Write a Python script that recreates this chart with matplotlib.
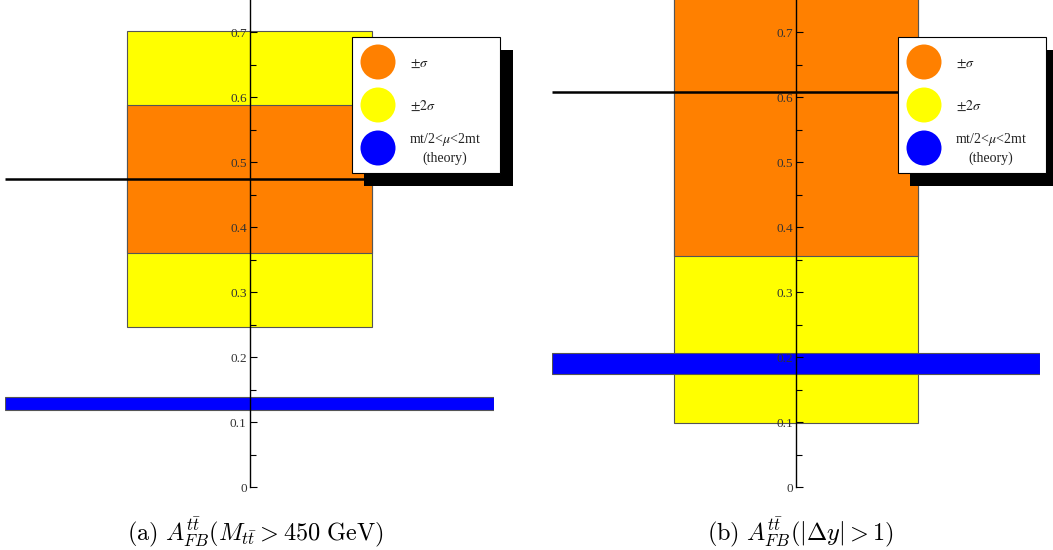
import matplotlib
matplotlib.use("Agg")
import matplotlib.pyplot as plt
from matplotlib.patches import Rectangle, Ellipse

W, H = 1053, 550

# ---- data ----
left_central = 0.474
left_sigma1 = (0.361, 0.589)
left_sigma2 = (0.247, 0.703)
left_theory = (0.118, 0.138)

right_central = 0.609
right_sigma1 = (0.355, 0.867)
right_sigma2 = (0.099, 1.12)
right_theory = (0.174, 0.206)

yticks_major = [0, 0.1, 0.2, 0.3, 0.4, 0.5, 0.6, 0.7]
ytick_labels = ["0", "0.1", "0.2", "0.3", "0.4", "0.5", "0.6", "0.7"]
yticks_minor = [0.05, 0.15, 0.25, 0.35, 0.45, 0.55, 0.65]

legend_labels = [r"$\pm\sigma$", r"$\pm2\sigma$", r"mt/2<$\mu$<2mt" + "\n(theory)"]
captions = [r"$\mathrm{(a)}\ A^{t\bar{t}}_{FB}(M_{t\bar{t}} > 450\ \mathrm{GeV})$",
            r"$\mathrm{(b)}\ A^{t\bar{t}}_{FB}(|\Delta y| > 1)$"]

ORANGE = "#FF8000"
YELLOW = "#FFFF00"
BLUE = "#0000FF"

plt.rcParams["font.family"] = ["Liberation Serif", "DejaVu Serif"]
plt.rcParams["mathtext.fontset"] = "cm"

fig = plt.figure(figsize=(W / 100, H / 100), dpi=100)


def fx(x):
    return x / W


def fy(y):
    return 1 - y / H


def make_panel(x0, x1, central, s1, s2, theory):
    ax = fig.add_axes([fx(x0), fy(487), fx(x1) - fx(x0), 487 / H])
    ax.set_xlim(-1, 1)
    ax.set_ylim(0, 0.75)
    edge = dict(edgecolor="#555555", linewidth=0.8)
    ax.bar(0, s2[1] - s2[0], bottom=s2[0], width=1.0, color=YELLOW, zorder=1, **edge)
    ax.bar(0, s1[1] - s1[0], bottom=s1[0], width=1.0, color=ORANGE, zorder=1.1, **edge)
    ax.bar(0, theory[1] - theory[0], bottom=theory[0], width=2.0, color=BLUE, zorder=1.2, **edge)
    ax.plot([-1, 1], [central, central], color="black", lw=1.8, zorder=1.3,
            solid_capstyle="butt")
    for s in ["top", "right", "bottom"]:
        ax.spines[s].set_visible(False)
    ax.spines["left"].set_position(("data", 0))
    ax.spines["left"].set_linewidth(1.0)
    ax.set_xticks([])
    ax.set_yticks(yticks_major)
    ax.set_yticklabels(ytick_labels)
    ax.set_yticks(yticks_minor, minor=True)
    ax.tick_params(axis="y", which="major", direction="in", length=5, width=0.8,
                   pad=2, labelsize=9.5, labelcolor="#333333")
    ax.tick_params(axis="y", which="minor", direction="in", length=4, width=0.8)
    ax.patch.set_visible(False)
    return ax


make_panel(5, 494, left_central, left_sigma1, left_sigma2, left_theory)
make_panel(552, 1040, right_central, right_sigma1, right_sigma2, right_theory)


def legend(bx0):
    # shadow
    fig.add_artist(Rectangle((fx(bx0 + 12), fy(186)), fx(149), fy(50) - fy(186),
                             transform=fig.transFigure, facecolor="black",
                             edgecolor="none", zorder=10))
    # box
    fig.add_artist(Rectangle((fx(bx0), fy(173)), fx(148), fy(37) - fy(173),
                             transform=fig.transFigure, facecolor="white",
                             edgecolor="black", linewidth=0.8, zorder=11))
    r = 17.5
    cx = bx0 + 26
    for cy, col in zip([62, 105, 148], [ORANGE, YELLOW, BLUE]):
        fig.add_artist(Ellipse((fx(cx), fy(cy)), 2 * r / W, 2 * r / H,
                               transform=fig.transFigure, facecolor=col,
                               edgecolor="none", zorder=12))
    fig.text(fx(bx0 + 58), fy(63), legend_labels[0], ha="left", va="center",
             fontsize=10, zorder=13, math_fontfamily="stix", color="#222222")
    fig.text(fx(bx0 + 58), fy(106), legend_labels[1], ha="left", va="center",
             fontsize=10, zorder=13, math_fontfamily="stix", color="#222222")
    fig.text(fx(bx0 + 93), fy(148), legend_labels[2], ha="center", va="center",
             fontsize=10, zorder=13, math_fontfamily="stix", color="#222222",
             linespacing=1.25, multialignment="center")


legend(352)
legend(898)

fig.text(fx(255), fy(532), captions[0], ha="center", va="center", fontsize=17.5)
fig.text(fx(800), fy(532), captions[1], ha="center", va="center", fontsize=17.5)

fig.savefig("out.png", dpi=100)
